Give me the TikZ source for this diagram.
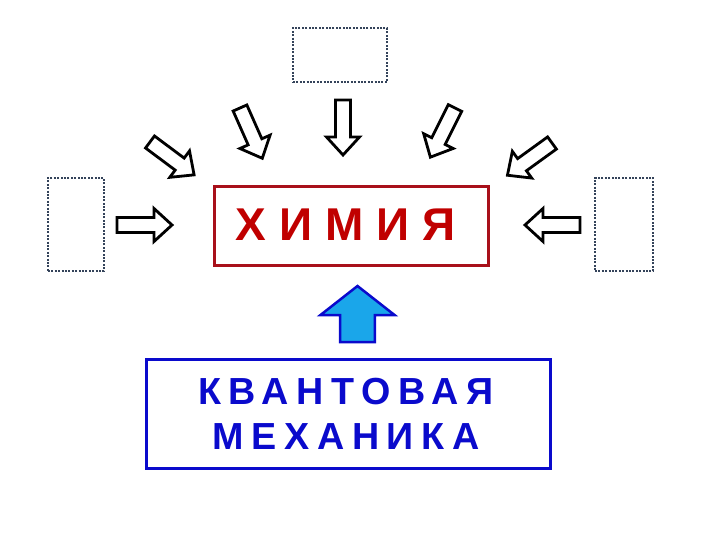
\documentclass[tikz,border=0pt]{standalone}
\usepackage{fontspec}
\setmainfont{Liberation Sans}
\definecolor{chemred}{HTML}{C00000}
\definecolor{chemframe}{HTML}{A8101A}
\definecolor{qblue}{HTML}{0A0ACC}
\definecolor{dotgrey}{HTML}{34435A}
\definecolor{arrowfill}{HTML}{1AA6EA}
\begin{document}
\begin{tikzpicture}[x=1pt,y=-1pt,
  dotbox/.style={draw=dotgrey, line width=2.4pt, dash pattern=on 2pt off 1.4pt, inner sep=0pt},
  chembox/.style={draw=chemframe, line width=3pt, inner sep=0pt, text=chemred,
    font=\fontsize{46}{50}\selectfont\bfseries\addfontfeature{LetterSpace=28}},
  qbox/.style={draw=qblue, line width=3pt, inner sep=0pt, text=qblue, align=center,
    font=\fontsize{37.7}{45}\selectfont\bfseries\addfontfeature{LetterSpace=20.5}},
  pics/hollowarrow/.style={code={
    \draw[line width=2.8pt, line join=miter, fill=white]
      (0,-7.5)--(37,-7.5)--(37,-16.5)--(55,0)--(37,16.5)--(37,7.5)--(0,7.5)--cycle;}},
  pics/bluearrow/.style={code={
    \draw[line width=2.5pt, draw=qblue, fill=arrowfill, line join=miter]
      (0,-17.3)--(27,-17.3)--(27,-37)--(56,0)--(27,37)--(27,17.3)--(0,17.3)--cycle;}}
]
\useasboundingbox (0,0) rectangle (720,540);

% dotted boxes
\node[dotbox, minimum width=94pt, minimum height=54pt] (top) at (340,55) {};
\node[dotbox, minimum width=56pt, minimum height=93pt] (left) at (76,224.5) {};
\node[dotbox, minimum width=58pt, minimum height=93pt] (right) at (624,224.5) {};

% main boxes
\node[chembox, minimum width=274pt, minimum height=79pt] (chem) at (351.5,226) {};
\node[chembox, draw=none, anchor=center] (chemtext) at (345.5,224.5) {ХИМИЯ};
\node[qbox, minimum width=404pt, minimum height=109pt] (qm) at (348.5,414) {};
\node[qbox, draw=none] (qmtext) at (346,414) {КВАНТОВАЯ\\МЕХАНИКА};

% hollow arrows
\pic[rotate=-36.7] (a1) at (150,142) {hollowarrow};
\pic[rotate=-66.1] (a2) at (240,108) {hollowarrow};
\pic[rotate=-90] (a3) at (343,100) {hollowarrow};
\pic[rotate=-116.6] (a4) at (455,108) {hollowarrow};
\pic[rotate=-144.1] (a5) at (552,143) {hollowarrow};
\pic[rotate=0] (aL) at (117,225) {hollowarrow};
\pic[rotate=180] (aR) at (580,225) {hollowarrow};

% blue arrow
\pic[rotate=90] (up) at (357.5,342) {bluearrow};
\end{tikzpicture}
\end{document}
